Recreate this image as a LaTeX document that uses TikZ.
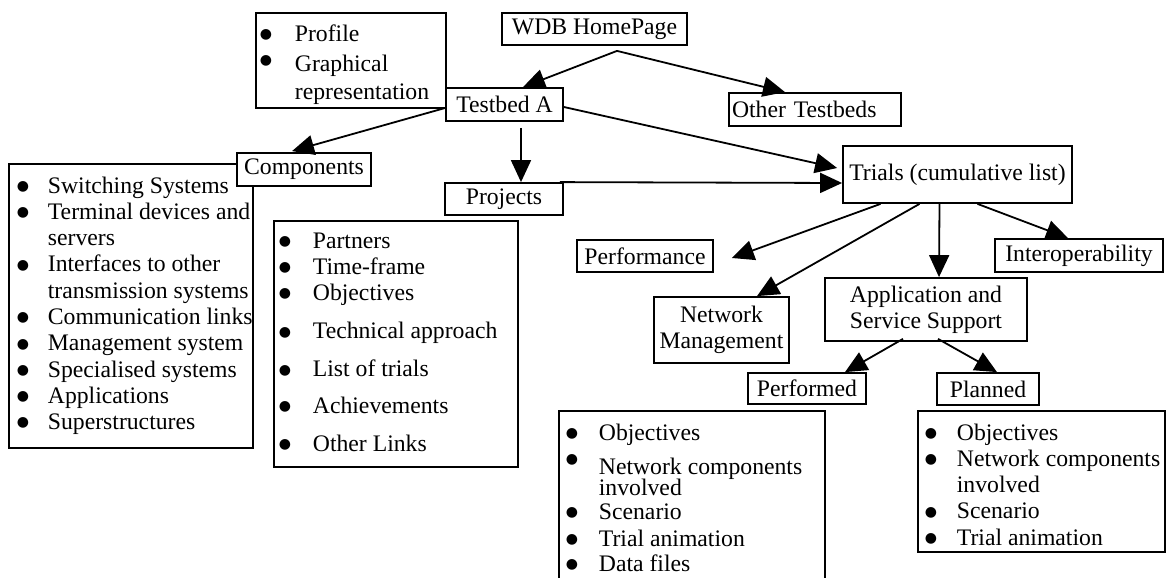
\documentclass[tikz,border=0pt]{standalone}
\usepackage{fontspec}
\setmainfont{Liberation Serif}
\newfontfamily\bulletfont{DejaVu Sans}
\usetikzlibrary{arrows.meta}

\newcommand{\itembullet}{\raisebox{1.4pt}{\bulletfont\fontsize{7}{7}\selectfont ●}}

\begin{document}
\begin{tikzpicture}[x=0.5pt,y=-0.5pt,line width=0.9pt,font=\fontsize{11.85}{13.15}\selectfont]
        \tikzstyle{box}=[draw, fill=white, inner sep=0pt, align=center]
        \tikzstyle{listbox}=[draw, inner sep=0pt]
        \tikzstyle{listtext}=[inner sep=0pt, anchor=base west]
        \tikzstyle{arr}=[-{Triangle[length=11pt,width=10pt]}]

        \useasboundingbox (0,0) rectangle (1167,578);

        % boxes with the lists
        \node[listbox, minimum width=95pt,  minimum height=47.5pt] (proflist) at (351,60.5)   {};
        \node[listbox, minimum width=122pt, minimum height=142pt]  (complist) at (131,306)    {};
        \node[listbox, minimum width=122pt, minimum height=123pt]  (projlist) at (396,344)    {};
        \node[listbox, minimum width=133pt, minimum height=89.5pt] (perflist) at (692,500.5)  {};
        \node[listbox, minimum width=123.5pt, minimum height=70.5pt] (planlist) at (1041.5,481.5) {};

        \node[listtext] (proftext) at (259,41) {\begin{tabular}[t]{@{}p{17.5pt}@{}l@{}}
            \itembullet & Profile\\[2.3pt]
            \raisebox{2.5pt}{\itembullet} & Graphical\\[0.8pt]
                        & representation
        \end{tabular}};

        \node[listtext] (comptext) at (16,193) {\begin{tabular}[t]{@{}p{15.5pt}@{}l@{}}
            \itembullet & Switching Systems\\
            \itembullet & Terminal devices and\\
                        & servers\\
            \itembullet & Interfaces to other\\
                        & transmission systems\\
            \itembullet & Communication links\\
            \itembullet & Management system\\
            \itembullet & Specialised systems\\
            \itembullet & Applications\\
            \itembullet & Superstructures
        \end{tabular}};

        \node[listtext] (projtext) at (278,248) {\begin{tabular}[t]{@{}p{17pt}@{}l@{}}
            \itembullet & Partners\\
            \itembullet & Time-frame\\
            \itembullet & Objectives\\[6pt]
            \itembullet & Technical approach\\[5.8pt]
            \itembullet & List of trials\\[5.3pt]
            \itembullet & Achievements\\[5.8pt]
            \itembullet & Other Links
        \end{tabular}};

        \node[listtext] (perftext) at (565,440) {\begin{tabular}[t]{@{}p{16.5pt}@{}l@{}}
            \itembullet & Objectives\\[3.3pt]
            \raisebox{4pt}{\itembullet} & Network components\\[-2.6pt]
                        & involved\\[-1.2pt]
            \itembullet & Scenario\\[0.3pt]
            \itembullet & Trial animation\\[-0.6pt]
            \itembullet & Data files
        \end{tabular}};

        \node[listtext] (plantext) at (924,440) {\begin{tabular}[t]{@{}p{16pt}@{}l@{}}
            \itembullet & Objectives\\
            \itembullet & Network components\\
                        & involved\\
            \itembullet & Scenario\\
            \itembullet & Trial animation
        \end{tabular}};

        % main boxes
        \node[box, minimum width=92.5pt, minimum height=16pt]   (wdb)       at (594.5,29)    {WDB HomePage};
        \node[box, minimum width=58.5pt, minimum height=16.5pt] (testbed)   at (504.5,104.5) {Testbed A};
        \node[box, text width=83pt, align=left, inner xsep=1.5pt, minimum height=16.5pt] (other) at (815,109.5) {Other Testbeds};
        \node[box, minimum width=67pt,   minimum height=16.5pt] (comp)      at (304,169.5)   {Components};
        \node[box, minimum width=59pt,   minimum height=16pt]   (proj)      at (504,199)     {Projects};
        \node[box, minimum width=114.5pt, minimum height=28.5pt] (trials)   at (957.5,174.5) {Trials (cumulative list)};
        \node[box, minimum width=68pt,   minimum height=16pt]   (perf)      at (645,256)     {Performance};
        \node[box, minimum width=84pt,   minimum height=16.5pt] (interop)   at (1079,255.5)  {Interoperability};
        \node[box, minimum width=67.5pt, minimum height=33pt]   (net)       at (721.5,330)   {Network\\Management};
        \node[box, minimum width=101pt,  minimum height=31.5pt] (app)       at (926,309.5)   {Application and\\Service Support};
        \node[box, minimum width=59pt,   minimum height=15.5pt] (performed) at (807,388.5)   {Performed};
        \node[box, minimum width=51pt,   minimum height=16pt]   (planned)   at (988,389)     {Planned};

        \path[arr]
            ([xshift=11.25pt,yshift=-2.5pt]wdb.south)   edge ([xshift=9.25pt]testbed.north)
            ([xshift=11.25pt,yshift=-2.5pt]wdb.south)   edge ([xshift=-15pt]other.north)

            ([yshift=-1.75pt]testbed.west)              edge ([xshift=-6pt,yshift=0.5pt]comp.north)
            ([xshift=8.25pt,yshift=-3pt]testbed.south)  edge ([xshift=8.5pt]proj.north)
            ([yshift=-1.25pt]testbed.east)              edge ([xshift=-2.5pt,yshift=3.25pt]trials.west)

            ([xshift=-2pt]proj.north east)              edge ([yshift=-4.25pt]trials.west)

            ([xshift=-38.5pt]trials.south)              edge ([xshift=9pt,yshift=-1pt]perf.east)
            ([xshift=-19pt]trials.south)                edge ([xshift=17.75pt]net.north)
            ([xshift=-9pt]trials.south)                 edge ([xshift=6.5pt]app.north)
            ([xshift=10pt]trials.south)                 edge ([xshift=-5.5pt]interop.north)

            ([xshift=-11.5pt,yshift=1.5pt]app.south)    edge ([xshift=19pt]performed.north)
            ([xshift=6pt,yshift=1.5pt]app.south)        edge ([xshift=4.5pt]planned.north)
        ;
    \end{tikzpicture}
\end{document}
